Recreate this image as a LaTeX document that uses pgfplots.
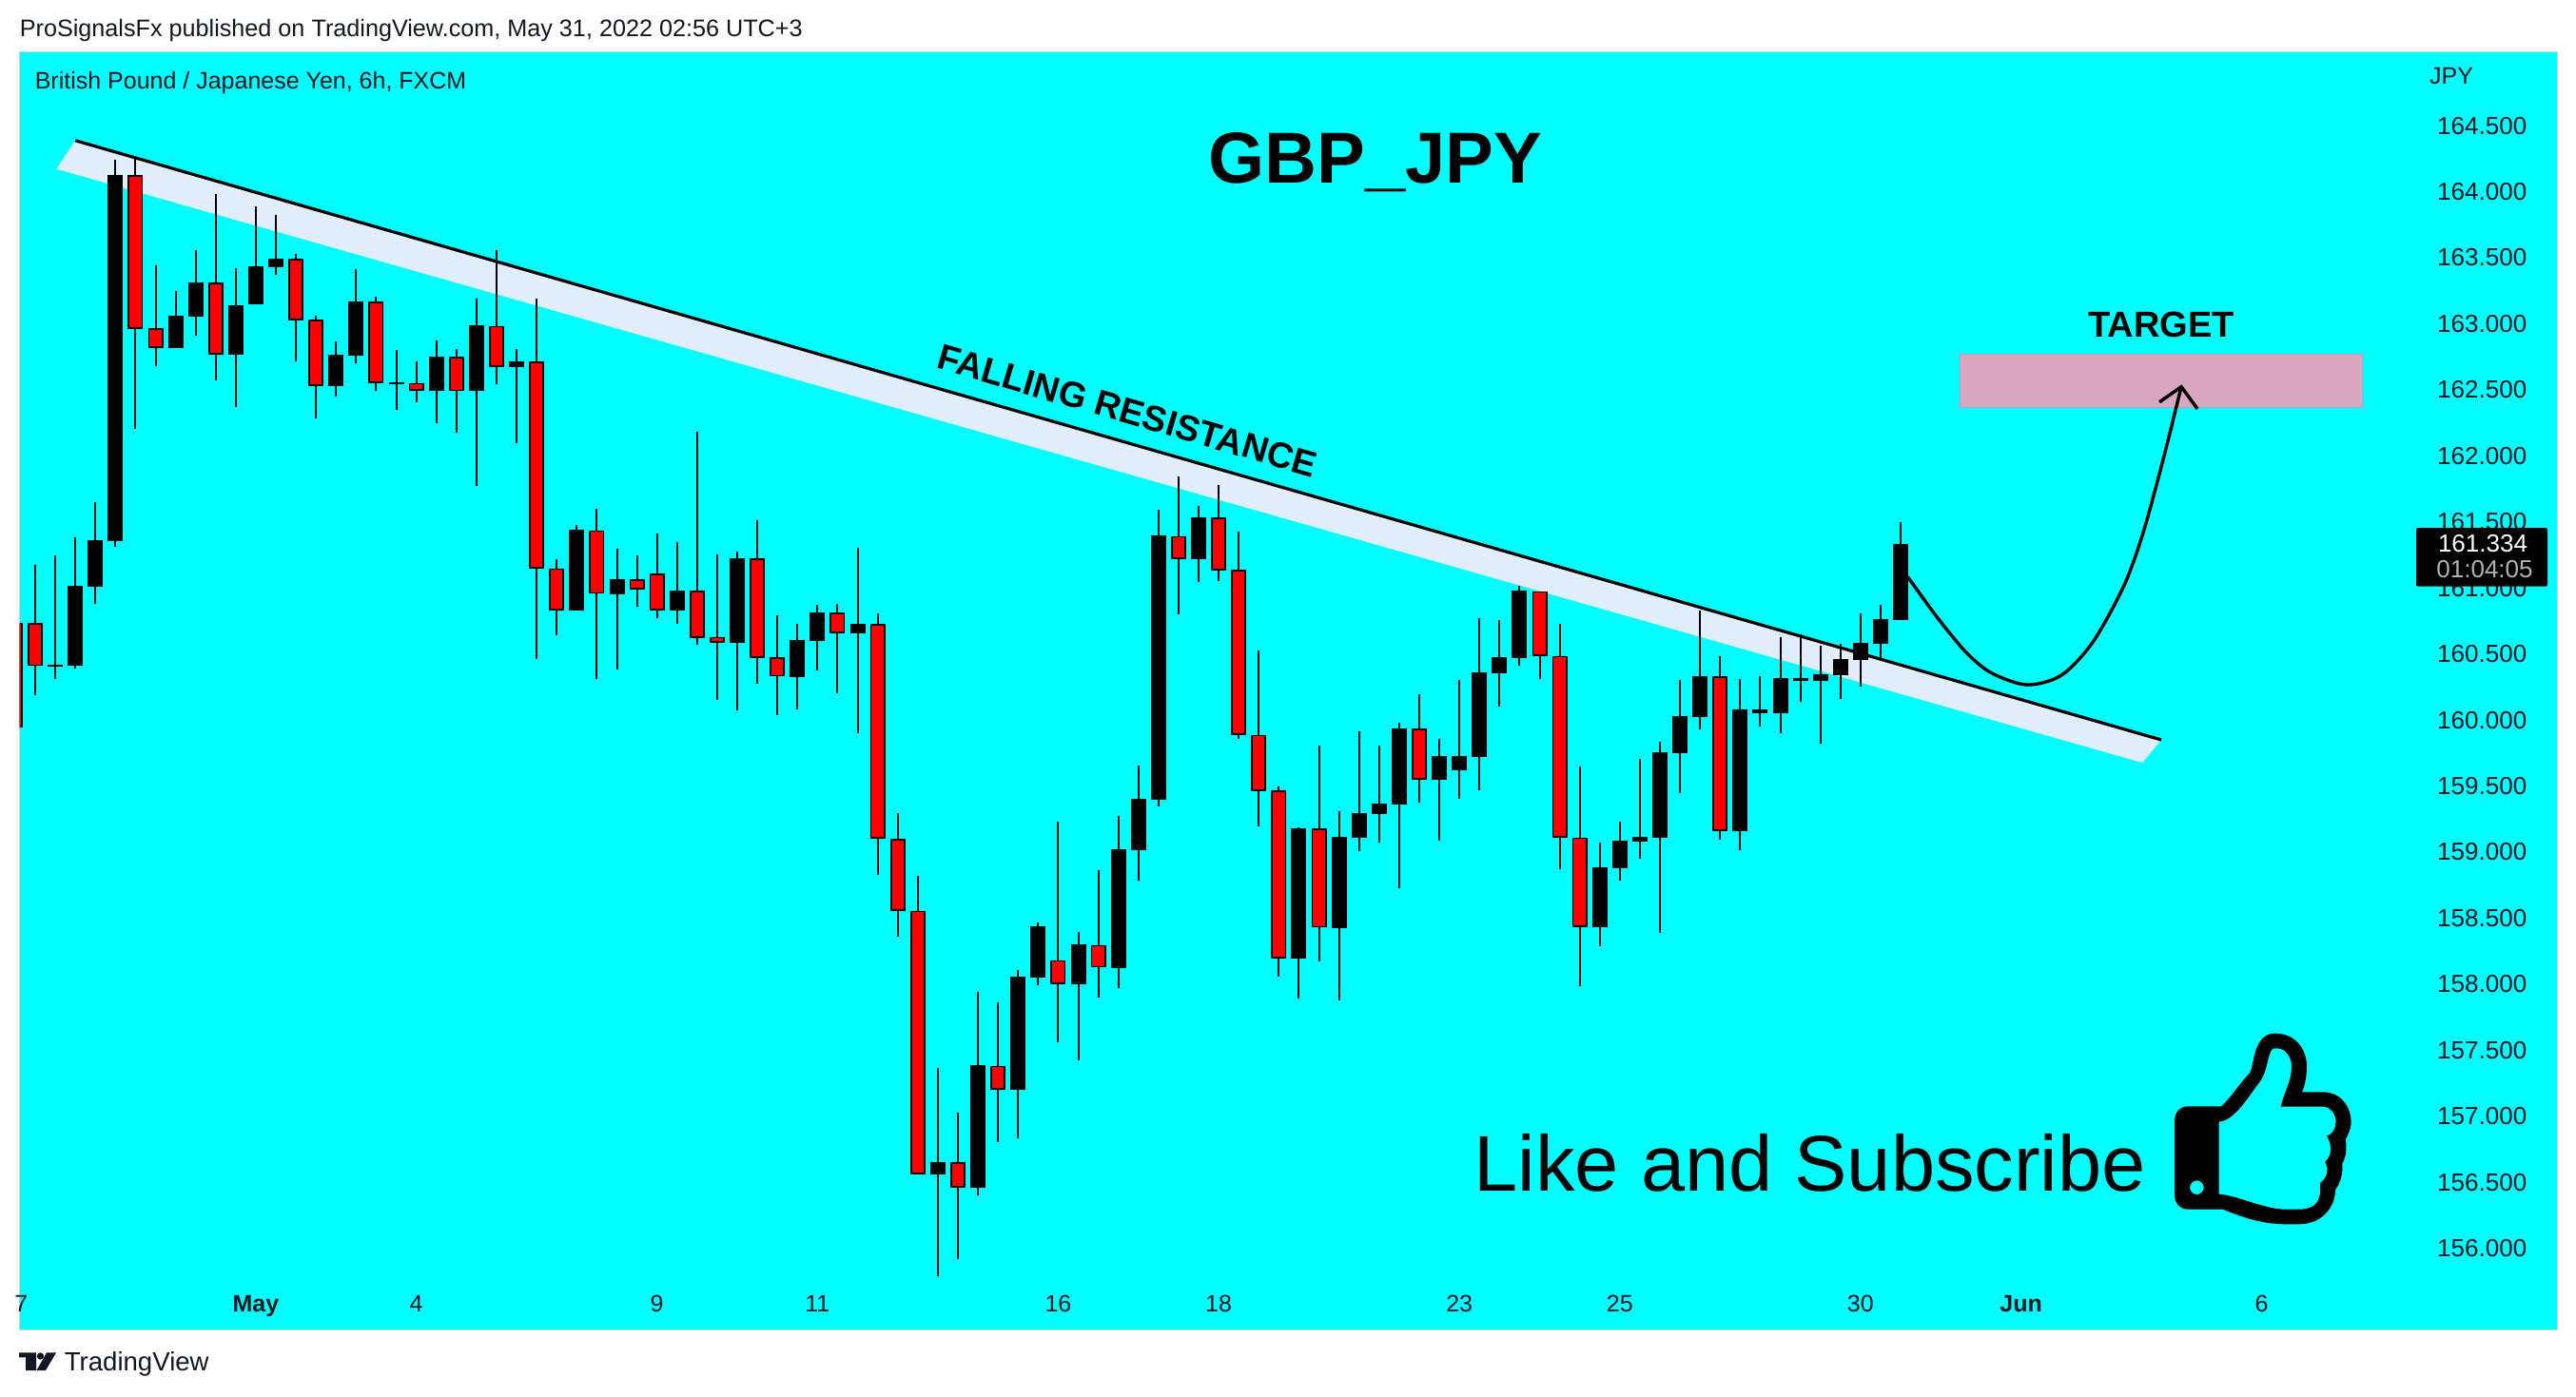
\documentclass[border=0pt]{standalone}
\usepackage{fontspec}
\setmainfont{Liberation Sans}
\usepackage{pgfplots}
\usepackage{pgfplotstable}
\pgfplotsset{compat=1.18}
\definecolor{chartbg}{RGB}{0,255,255}
\definecolor{band}{RGB}{224,237,250}
\definecolor{zone}{RGB}{216,166,190}
\definecolor{zoneedge}{RGB}{190,150,225}
\definecolor{ink}{RGB}{19,23,34}
\newcommand\fs[1]{\fontsize{#1}{#1}\selectfont}

% bullish candles: x open high low close
\pgfplotstableread{
x open high low close
1 160.402 161.246 160.311 160.417
2 160.408 161.384 160.391 161.017
3 161.008 161.648 160.878 161.360
4 161.355 164.240 161.310 164.126
7 162.815 163.247 162.815 163.062
8 163.053 163.558 162.909 163.312
10 162.765 163.420 162.368 163.141
11 163.147 163.888 163.147 163.435
12 163.429 163.823 163.370 163.494
15 162.527 162.865 162.448 162.765
16 162.759 163.415 162.700 163.168
18 162.545 162.800 162.348 162.559
20 162.492 162.874 162.248 162.750
22 162.489 163.191 161.772 162.988
24 162.671 162.809 162.095 162.715
27 160.831 161.478 160.831 161.440
29 160.952 161.296 160.382 161.067
32 160.829 161.349 160.729 160.981
35 160.585 161.275 160.073 161.225
38 160.326 160.729 160.079 160.605
39 160.599 160.873 160.376 160.814
41 160.655 161.305 159.900 160.729
45 156.559 157.364 155.789 156.654
47 156.460 157.941 156.401 157.388
49 157.203 158.107 156.831 158.056
50 158.048 158.466 157.992 158.439
52 158.000 158.395 157.424 158.300
54 158.123 159.272 157.969 159.019
55 159.015 159.655 158.782 159.402
56 159.394 161.590 159.347 161.397
58 161.218 161.620 161.045 161.535
63 158.193 159.185 157.888 159.180
65 158.425 159.309 157.877 159.116
66 159.108 159.915 159.006 159.295
67 159.287 159.808 159.072 159.367
68 159.361 159.978 158.728 159.937
70 159.546 159.857 159.086 159.728
71 159.620 160.304 159.403 159.728
72 159.720 160.772 159.469 160.361
73 160.353 160.758 160.102 160.477
74 160.472 161.017 160.411 160.981
78 158.434 159.072 158.287 158.882
79 158.880 159.230 158.786 159.086
80 159.079 159.706 158.952 159.115
81 159.108 159.835 158.388 159.756
82 159.751 160.303 159.446 160.029
83 160.025 160.831 159.929 160.332
85 159.158 160.310 159.014 160.080
86 160.051 160.332 159.950 160.080
87 160.051 160.627 159.900 160.317
88 160.296 160.646 160.137 160.317
89 160.296 160.565 159.821 160.346
90 160.339 160.574 160.159 160.461
91 160.454 160.807 160.253 160.584
92 160.577 160.872 160.464 160.764
93 160.757 161.498 160.757 161.335
}\upcandles

% bearish candles: x open high low close
\pgfplotstableread{
x open high low close
-1 160.737 160.737 159.940 159.940
0 160.732 161.178 160.188 160.408
5 164.126 164.249 162.204 162.962
6 162.965 163.441 162.680 162.815
9 163.312 163.982 162.571 162.765
13 163.494 163.529 162.715 163.024
14 163.030 163.062 162.283 162.530
17 163.168 163.206 162.492 162.553
19 162.551 162.715 162.407 162.492
21 162.750 162.809 162.174 162.489
23 162.985 163.561 162.542 162.674
25 162.712 163.191 160.461 161.149
26 161.149 161.216 160.640 160.831
28 161.437 161.598 160.311 160.955
30 161.067 161.246 160.858 160.987
31 161.108 161.413 160.773 160.831
33 160.978 162.183 160.570 160.623
34 160.629 161.255 160.153 160.585
36 161.222 161.513 160.273 160.470
37 160.473 160.793 160.038 160.329
40 160.811 160.878 160.203 160.658
42 160.726 160.808 158.827 159.104
43 159.102 159.296 158.360 158.557
44 158.557 158.818 156.563 156.563
46 156.650 157.025 155.919 156.460
48 157.384 157.862 156.804 157.203
51 158.182 159.229 157.558 158.000
53 158.297 158.861 157.898 158.127
57 161.394 161.843 160.799 161.221
59 161.532 161.780 161.053 161.133
60 161.135 161.430 159.857 159.888
61 159.888 160.527 159.193 159.463
62 159.466 159.494 158.058 158.196
64 159.177 159.805 158.171 158.428
69 159.934 160.196 159.375 159.549
75 160.976 160.976 160.309 160.485
76 160.485 160.725 158.871 159.111
77 159.110 159.648 157.987 158.434
84 160.329 160.483 159.094 159.161
}\downcandles

\begin{document}
\begin{tikzpicture}[every node/.style={inner sep=0pt,text=ink}]
\fill[white] (0,0) rectangle (677pt,-367pt);
\path[use as bounding box] (0,0) rectangle (677pt,-367pt);

\begin{axis}[
    at={(5.125pt,-349.5pt)},
    anchor=south west,
    scale only axis,
    width=666.875pt,
    height=336pt,
    xmin=-0.7825, xmax=125.72,
    ymin=155.386, ymax=165.062,
    axis background/.style={fill=chartbg},
    axis line style={draw=gray!35,line width=0.25pt},
    major tick length=0pt,
    xtick={-0.7,11,19,31,39,51,59,71,79,91,99,111},
    xticklabels={7,\textbf{May},4,9,11,16,18,23,25,30,\textbf{Jun},6},
    xticklabel style={anchor=base,yshift=4.75pt,font=\fs{6.25pt},text=ink},
    ytick={156,156.5,...,164.5},
    ytick pos=right,
    yticklabel pos=right,
    yticklabel style={anchor=east,xshift=-7.75pt,font=\fs{6.5pt},text=ink,
        /pgf/number format/.cd,fixed,fixed zerofill,precision=3,1000 sep={},assume math mode=true},
]
% falling resistance band
\addplot[fill=band,draw=none] coordinates {(2.006,164.387) (105.99,159.85) (105.05,159.677) (1.058,164.172)} -- cycle;

% wicks
\addplot[draw=none,mark=none,error bars/.cd,y dir=minus,y explicit,error mark=none,
    error bar style={line width=0.5pt,draw=black}]
    table[x=x,y=high,y error minus expr=\thisrow{high}-\thisrow{low}] {\upcandles};
\addplot[draw=none,mark=none,error bars/.cd,y dir=minus,y explicit,error mark=none,
    error bar style={line width=0.5pt,draw=black}]
    table[x=x,y=high,y error minus expr=\thisrow{high}-\thisrow{low}] {\downcandles};
% bodies
\addplot[draw=none,mark=none,error bars/.cd,y dir=minus,y explicit,error mark=none,
    error bar style={line width=4pt,draw=black}]
    table[x=x,y=close,y error minus expr=\thisrow{close}-\thisrow{open}] {\upcandles};
\addplot[draw=none,mark=none,error bars/.cd,y dir=minus,y explicit,error mark=none,
    error bar style={line width=4pt,draw=black}]
    table[x=x,y=open,y error minus expr=\thisrow{open}-\thisrow{close}] {\downcandles};
\addplot[draw=none,mark=none,error bars/.cd,y dir=minus,y explicit,error mark=none,
    error bar style={line width=3.1pt,draw=red}]
    table[x=x,y expr=\thisrow{open}-0.012,y error minus expr=\thisrow{open}-\thisrow{close}-0.024] {\downcandles};

% trend line
\addplot[black,line width=0.8pt] coordinates {(2.006,164.387) (105.99,159.85)};

% target zone
\addplot[fill=zone,draw=zoneedge,line width=0.25pt] coordinates {(95.96,162.767) (116.0,162.767) (116.0,162.369) (95.96,162.369)} -- cycle;

% expected path
\addplot[black,line width=0.85pt,smooth] coordinates {
    (93.36,161.083) (94.85,160.771) (96.30,160.507) (97.55,160.354) (99.30,160.267)
    (101.01,160.339) (102.58,160.590) (104.14,161.020) (105.09,161.419) (106.04,161.945)
    (106.99,162.523)};
\addplot[black,line width=0.85pt] coordinates {(105.9,162.407) (106.99,162.523) (107.8,162.355)};
\end{axis}

\begin{scope}[x=0.25pt,y=-0.25pt]
\node[anchor=west,font=\fs{6.3pt}] at (20,32) {ProSignalsFx published on TradingView.com, May 31, 2022 02:56 UTC+3};
\node[anchor=west,font=\fs{6.25pt}] at (36,87) {British Pound / Japanese Yen, 6h, FXCM};
\node[font=\fs{6.25pt}] at (2577,80) {JPY};

\node[font=\fs{19pt}\bfseries,text=black] at (1446,171) {GBP\_JPY};
\node[font=\fs{9.5pt}\bfseries,text=black] at (2272,341) {TARGET};
\node[font=\fs{9.45pt}\bfseries,text=black,rotate=-16.2] at (1185,432) {FALLING RESISTANCE};
\node[anchor=west,font=\fs{20.75pt},text=black] at (1549,1223) {Like and Subscribe};

% last price tag
\fill[black,rounded corners=0.5pt] (2540,555) rectangle (2678,616.7);
\node[font=\fs{6.5pt},text=white] at (2610,571.7) {161.334};
\node[font=\fs{6.5pt},text=black!30] at (2612,599) {01:04:05};

% thumb, traced in the zoom's pixels
\begin{scope}[shift={(2200,1050)},x=0.08333pt,y=-0.08333pt]
\fill[black,even odd rule]
    (258,385) .. controls (258,360) and (275,340) .. (300,340) -- (405,340)
    .. controls (430,320) and (465,265) .. (495,235)
    .. controls (510,210) and (505,110) .. (575,110)
    .. controls (640,110) and (675,160) .. (675,215)
    .. controls (675,250) and (668,275) .. (660,295) -- (725,295)
    .. controls (785,295) and (815,345) .. (815,390)
    .. controls (815,410) and (805,430) .. (797,445)
    .. controls (803,475) and (797,505) .. (787,520)
    .. controls (790,550) and (780,585) .. (765,603)
    .. controls (765,660) and (720,712) .. (650,712) -- (610,712)
    .. controls (520,712) and (450,680) .. (410,665) -- (300,665)
    .. controls (275,665) and (258,645) .. (258,620) -- cycle
    (398,388) .. controls (445,388) and (490,310) .. (525,265)
    .. controls (545,240) and (550,200) .. (558,175)
    .. controls (565,155) and (570,157) .. (580,157)
    .. controls (610,157) and (627,185) .. (627,215)
    .. controls (627,260) and (605,290) .. (593,341) -- (725,341)
    .. controls (750,341) and (767,365) .. (767,388)
    .. controls (767,410) and (755,430) .. (738,433)
    .. controls (755,460) and (755,495) .. (733,515)
    .. controls (745,540) and (740,565) .. (717,582)
    .. controls (720,625) and (715,665) .. (650,665) -- (600,665)
    .. controls (530,660) and (450,620) .. (398,617) -- cycle
    (350,596) arc[start angle=0,end angle=360,radius=22];
\end{scope}

% TradingView mark
\fill[ink] (20,1422.3) -- (38,1422.3) -- (38,1441) -- (27,1441) -- (27,1427.3) -- (20,1427.3) -- cycle;
\fill[ink] (42.5,1426) circle[radius=3.7];
\fill[ink] (49,1422.3) -- (59,1422.3) -- (48,1441) -- (38.5,1441) -- cycle;
\node[anchor=west,font=\fs{6.9pt}] at (67,1434) {TradingView};
\end{scope}
\end{tikzpicture}
\end{document}
